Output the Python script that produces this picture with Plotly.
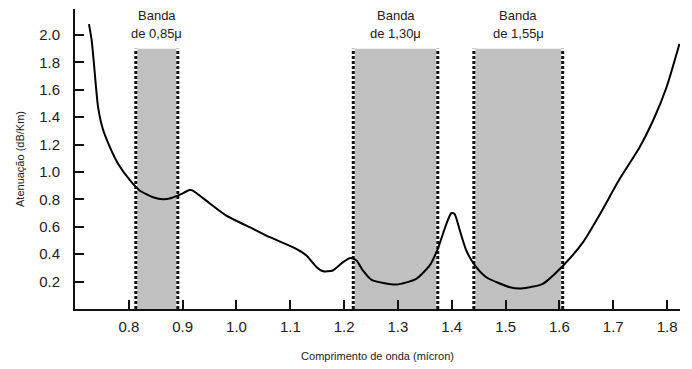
import plotly.graph_objects as go

# Attenuation curve (wavelength in micron, attenuation in dB/Km)
wavelength = [0.726, 0.731, 0.735, 0.739, 0.743, 0.752, 0.765, 0.780, 0.802, 0.820,
              0.845, 0.864, 0.879, 0.895, 0.913, 0.918, 0.926, 0.950, 0.981, 1.031,
              1.062, 1.111, 1.130, 1.149, 1.161, 1.179, 1.198, 1.212, 1.223, 1.235,
              1.251, 1.297, 1.334, 1.359, 1.374, 1.390, 1.399, 1.405, 1.415, 1.427,
              1.443, 1.464, 1.508, 1.529, 1.569, 1.607, 1.644, 1.675, 1.712, 1.749,
              1.774, 1.799, 1.823]
attenuation = [2.08, 1.96, 1.80, 1.62, 1.47, 1.31, 1.18, 1.06, 0.94, 0.865,
               0.816, 0.801, 0.810, 0.835, 0.868, 0.866, 0.845, 0.772, 0.682, 0.585,
               0.524, 0.439, 0.391, 0.305, 0.275, 0.281, 0.342, 0.372, 0.354, 0.281,
               0.213, 0.179, 0.220, 0.318, 0.439, 0.622, 0.699, 0.695, 0.573, 0.427,
               0.318, 0.232, 0.159, 0.150, 0.184, 0.318, 0.488, 0.690, 0.950, 1.181,
               1.376, 1.619, 1.936]

# Transmission bands
band_start = [0.813, 1.217, 1.441]
band_end = [0.891, 1.374, 1.606]
band_labels = ["de 0,85\u03bc", "de 1,30\u03bc", "de 1,55\u03bc"]
band_top = 1.90

x_ticks = [0.8, 0.9, 1.0, 1.1, 1.2, 1.3, 1.4, 1.5, 1.6, 1.7, 1.8]
y_ticks = [0.2, 0.4, 0.6, 0.8, 1.0, 1.2, 1.4, 1.6, 1.8, 2.0]

FONT = "Arial, Liberation Sans, sans-serif"

fig = go.Figure()

shapes = []
annotations = []
for s, e, lab in zip(band_start, band_end, band_labels):
    shapes.append(dict(type="rect", x0=s, x1=e, y0=0, y1=band_top, xref="x", yref="y",
                       fillcolor="#c0c0c0", line=dict(width=0), layer="below"))
    for xv in (s, e):
        shapes.append(dict(type="line", x0=xv, x1=xv, y0=0, y1=band_top, xref="x", yref="y",
                           line=dict(color="white", width=3), layer="below"))
        shapes.append(dict(type="line", x0=xv, x1=xv, y0=0, y1=band_top, xref="x", yref="y",
                           line=dict(color="#111111", width=3, dash="3px,2px"), layer="below"))
    c = (s + e) / 2
    annotations.append(dict(x=c, y=2.142, xref="x", yref="y", text="Banda", showarrow=False,
                            font=dict(family=FONT, size=13, color="#222"), yanchor="middle"))
    annotations.append(dict(x=c, y=2.01, xref="x", yref="y", text=lab, showarrow=False,
                            font=dict(family=FONT, size=13, color="#222"), yanchor="middle"))

fig.add_trace(go.Scatter(x=wavelength, y=attenuation, mode="lines",
                         line=dict(color="black", width=2, shape="spline", smoothing=0.6),
                         hoverinfo="skip", showlegend=False))

# The page body has an 8px default margin, so the figure is sized to fit the window.
fig.update_layout(
    width=684, height=361,
    margin=dict(l=67, r=12, t=1, b=60),
    paper_bgcolor="white", plot_bgcolor="white",
    shapes=shapes, annotations=annotations,
    font=dict(family=FONT, color="#222"),
    showlegend=False,
)
fig.update_xaxes(range=[0.7, 1.824], tickvals=x_ticks, ticktext=[f"{v:.1f}" for v in x_ticks],
                 ticks="inside", ticklen=9, tickwidth=2, tickcolor="#111",
                 showline=True, linecolor="#111", linewidth=2, showgrid=False, zeroline=False,
                 tickfont=dict(size=15), ticklabelstandoff=3, automargin=False,
                 title=dict(text="Comprimento de onda (m\u00edcron)", font=dict(size=11), standoff=18))
fig.update_yaxes(range=[0, 2.19], tickvals=y_ticks, ticktext=[f"{v:.1f}" for v in y_ticks],
                 ticks="inside", ticklen=9, tickwidth=2, tickcolor="#111",
                 showline=True, linecolor="#111", linewidth=2, showgrid=False, zeroline=False,
                 tickfont=dict(size=15), ticklabelstandoff=10, automargin=False,
                 title=dict(text="Atenua\u00e7\u00e3o (dB/Km)", font=dict(size=11), standoff=12))

fig.write_html("out.html")
